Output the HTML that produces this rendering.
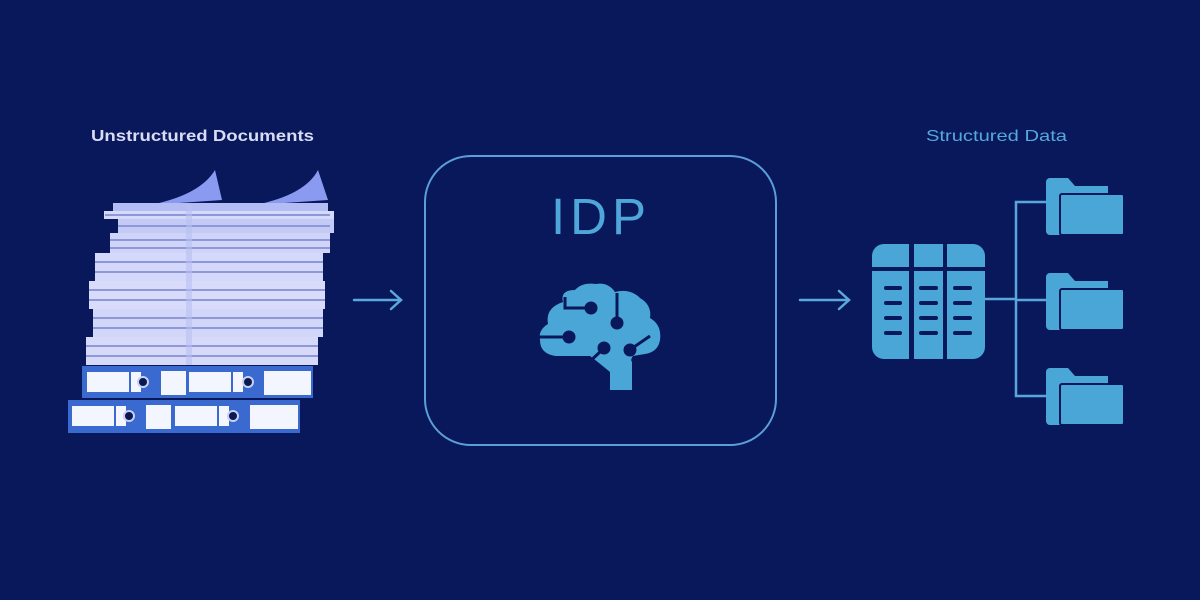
<!DOCTYPE html>
<html><head><meta charset="utf-8"><style>
html,body{margin:0;padding:0;background:#08185a;}
svg{display:block}
</style></head><body>
<svg width="1200" height="600" viewBox="0 0 1200 600" xmlns="http://www.w3.org/2000/svg">
<rect width="1200" height="600" fill="#08185a"/>
<text x="91" y="141" font-family="Liberation Sans, sans-serif" font-weight="bold" font-size="16" fill="#d8dcf4" textLength="223" lengthAdjust="spacingAndGlyphs">Unstructured Documents</text>
<text x="926" y="141" font-family="Liberation Sans, sans-serif" font-size="16" fill="#56a8dc" textLength="141" lengthAdjust="spacingAndGlyphs">Structured Data</text>

<g>
<path d="M150 205 Q200 195 215 170 L222 200 Z" fill="#8a9af0"/>
<path d="M255 205 Q305 195 318 170 L328 200 Z" fill="#8a9af0"/>
<rect x="113" y="203" width="215" height="9" fill="#b4bcf4"/>
<rect x="104" y="211" width="230" height="8" fill="#d6dafa"/>
<rect x="118" y="219" width="216" height="14" fill="#c4caf6"/>
<rect x="110" y="233" width="220" height="20" fill="#d0d4f8"/>
<rect x="95" y="253" width="228" height="28" fill="#d4d8fa"/>
<rect x="89" y="281" width="236" height="28" fill="#d8dcfa"/>
<rect x="93" y="309" width="230" height="28" fill="#d2d6f8"/>
<rect x="86" y="337" width="232" height="28" fill="#d6daf8"/>
<g stroke="#8e98d8" stroke-width="2">
<line x1="105" y1="215" x2="330" y2="215"/><line x1="118" y1="226" x2="330" y2="226"/>
<line x1="110" y1="240" x2="330" y2="240"/><line x1="110" y1="248" x2="330" y2="248"/>
<line x1="95" y1="262" x2="323" y2="262"/><line x1="95" y1="272" x2="323" y2="272"/>
<line x1="89" y1="290" x2="325" y2="290"/><line x1="89" y1="300" x2="325" y2="300"/>
<line x1="93" y1="318" x2="323" y2="318"/><line x1="93" y1="328" x2="323" y2="328"/>
<line x1="86" y1="346" x2="318" y2="346"/><line x1="86" y1="356" x2="318" y2="356"/>
</g>
<rect x="186" y="205" width="6" height="160" fill="#b8c0f0" opacity="0.6"/>
</g>
<g>
<rect x="82" y="366" width="231" height="32" fill="#3a6ad0"/>
<rect x="68" y="400" width="232" height="33" fill="#3a6ad0"/>
<g fill="#f4f6ff">
<rect x="87" y="372" width="42" height="20"/><rect x="131" y="372" width="10" height="20"/>
<rect x="161" y="371" width="25" height="24"/>
<rect x="189" y="372" width="42" height="20"/><rect x="233" y="372" width="10" height="20"/>
<rect x="264" y="371" width="47" height="24"/>
<rect x="72" y="406" width="42" height="20"/><rect x="116" y="406" width="10" height="20"/>
<rect x="146" y="405" width="25" height="24"/>
<rect x="175" y="406" width="42" height="20"/><rect x="219" y="406" width="10" height="20"/>
<rect x="250" y="405" width="48" height="24"/>
</g>
<g fill="#0a1a50" stroke="#c8d0f4" stroke-width="2">
<circle cx="143" cy="382" r="5"/><circle cx="248" cy="382" r="5"/>
<circle cx="129" cy="416" r="5"/><circle cx="233" cy="416" r="5"/>
</g>
</g>

<g stroke="#5aa8dc" stroke-width="2.5" fill="none" stroke-linecap="round">
<line x1="354" y1="300" x2="401" y2="300"/><polyline points="391,291 401,300 391,309"/>
<line x1="800" y1="300" x2="849" y2="300"/><polyline points="839,291 849,300 839,309"/>
</g>

<rect x="425" y="156" width="351" height="289" rx="46" fill="none" stroke="#5a9fd8" stroke-width="2"/>
<text x="601" y="234" text-anchor="middle" font-family="Liberation Sans, sans-serif" font-size="51" fill="#4ea6da" letter-spacing="5">IDP</text>

<!-- brain -->
<path fill="#4aa6d6" d="M563 302 Q560 290 575 290 Q582 282 596 284 Q608 282 615 292 Q630 288 640 298 Q652 305 650 318 Q662 325 660 340 Q658 352 645 354 L633 356 Q630 360 632 362 L632 390 L610 390 L610 372 Q598 362 590 356 L556 356 Q540 354 540 340 Q538 330 548 324 Q545 308 563 302 Z"/>
<g stroke="#08185a" stroke-width="3" fill="#08185a">
<polyline points="565,297 565,308 588,308" fill="none"/><circle cx="591" cy="308" r="5"/>
<line x1="617" y1="293" x2="617" y2="320"/><circle cx="617" cy="323" r="5"/>
<line x1="537" y1="337" x2="566" y2="337"/><circle cx="569" cy="337" r="5"/>
<line x1="601" y1="351" x2="585" y2="366"/><circle cx="604" cy="348" r="5"/>
<line x1="634" y1="347" x2="650" y2="336"/><circle cx="630" cy="350" r="5"/>
</g>

<g fill="#4aa6d6">
<path d="M872 267 V256 a12 12 0 0 1 12 -12 H909 V267 Z"/>
<rect x="914" y="244" width="29" height="23"/>
<path d="M947 244 H973 a12 12 0 0 1 12 12 V267 H947 Z"/>
<path d="M872 271 H909 V359 H884 a12 12 0 0 1 -12 -12 Z"/>
<rect x="914" y="271" width="29" height="88"/>
<path d="M947 271 H985 V347 a12 12 0 0 1 -12 12 H947 Z"/>
</g>
<g stroke="#08185a" stroke-width="4" stroke-linecap="round">
<line x1="886" y1="288" x2="900" y2="288"/><line x1="886" y1="303" x2="900" y2="303"/><line x1="886" y1="318" x2="900" y2="318"/><line x1="886" y1="333" x2="900" y2="333"/>
<line x1="921" y1="288" x2="936" y2="288"/><line x1="921" y1="303" x2="936" y2="303"/><line x1="921" y1="318" x2="936" y2="318"/><line x1="921" y1="333" x2="936" y2="333"/>
<line x1="955" y1="288" x2="970" y2="288"/><line x1="955" y1="303" x2="970" y2="303"/><line x1="955" y1="318" x2="970" y2="318"/><line x1="955" y1="333" x2="970" y2="333"/>
</g>
<g stroke="#5aa6dc" stroke-width="2.5" fill="none">
<line x1="985" y1="299" x2="1016" y2="299"/>
<polyline points="1046,202 1016,202 1016,396 1046,396"/>
<line x1="1016" y1="300" x2="1046" y2="300"/>
</g>
<g fill="#4aa6d6">
<g>
<path d="M1046 182 a4 4 0 0 1 4 -4 H1068 L1075 186 H1108 V235 H1050 a4 4 0 0 1 -4 -4 Z"/>
<rect x="1060" y="194" width="64" height="41" rx="2" stroke="#08185a" stroke-width="2"/>
</g>
<g transform="translate(0,95)">
<path d="M1046 182 a4 4 0 0 1 4 -4 H1068 L1075 186 H1108 V235 H1050 a4 4 0 0 1 -4 -4 Z"/>
<rect x="1060" y="194" width="64" height="41" rx="2" stroke="#08185a" stroke-width="2"/>
</g>
<g transform="translate(0,190)">
<path d="M1046 182 a4 4 0 0 1 4 -4 H1068 L1075 186 H1108 V235 H1050 a4 4 0 0 1 -4 -4 Z"/>
<rect x="1060" y="194" width="64" height="41" rx="2" stroke="#08185a" stroke-width="2"/>
</g>
</g>
</svg>
</body></html>
